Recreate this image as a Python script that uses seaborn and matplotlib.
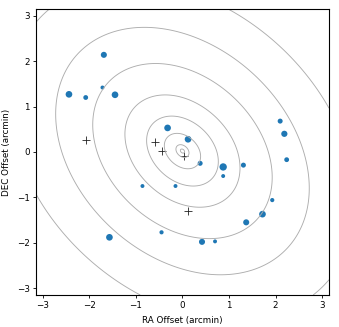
import numpy as np
import pandas as pd
import matplotlib
matplotlib.use("Agg")
import matplotlib.pyplot as plt
import seaborn as sns

# source offsets (arcmin) and relative flux
ra_off = [-1.69, -2.44, -2.08, -1.72, -1.45, -0.32, 0.12, 0.38, 0.875, 0.875,
          1.31, -0.86, -0.15, 2.10, 2.19, 2.24, 1.93, 1.72, 1.37, 0.42,
          0.70, -0.45, -1.57]
dec_off = [2.14, 1.27, 1.20, 1.42, 1.26, 0.53, 0.28, -0.25, -0.33, -0.53,
           -0.29, -0.75, -0.75, 0.68, 0.40, -0.17, -1.06, -1.37, -1.55, -1.98,
           -1.97, -1.77, -1.88]
flux = [19, 23, 12, 8, 23, 23, 23, 13, 28, 8,
        13, 8, 8, 13, 20, 12, 9, 23, 19, 19,
        8, 9, 23]

# pointing centres
pt_ra = [-2.08, -0.60, -0.43, 0.03, 0.11]
pt_dec = [0.26, 0.21, 0.02, -0.08, -1.29]

# beam contour levels (elliptical radius, arcmin)
beam_levels = [0.043, 0.134, 0.372, 0.735, 1.18, 1.84, 2.60, 3.55]
beam_tilt = 0.3
beam_center = (0.0, 0.02)

plt.rcParams['font.size'] = 6.3
fig = plt.figure(figsize=(3.39, 3.27), dpi=100)
ax = fig.add_axes([0.106, 0.098, 0.8645, 0.8745])

lim = 3.15
g = np.linspace(-lim, lim, 600)
X, Y = np.meshgrid(g, g)
dx, dy = X - beam_center[0], Y - beam_center[1]
R = np.sqrt(dx**2 + 2 * beam_tilt * dx * dy + dy**2)
ax.contour(X, Y, R, levels=beam_levels, colors='0.68', linewidths=0.65)

src = pd.DataFrame({'ra': ra_off, 'dec': dec_off, 'flux': flux})
sns.scatterplot(data=src, x='ra', y='dec', size='flux', sizes=(8, 28),
                color='#1f77b4', linewidth=0, legend=False, ax=ax)

pts = pd.DataFrame({'ra': pt_ra, 'dec': pt_dec})
sns.scatterplot(data=pts, x='ra', y='dec', marker='+', color='#222222', s=30,
                linewidth=0.6, ax=ax)

ax.set_xlim(-lim, lim)
ax.set_ylim(-lim, lim)
ax.set_xticks([-3, -2, -1, 0, 1, 2, 3])
ax.set_yticks([-3, -2, -1, 0, 1, 2, 3])
ax.set_xlabel('RA Offset (arcmin)')
ax.set_ylabel('DEC Offset (arcmin)')
ax.tick_params(length=2.5, width=0.6, pad=2)
for s in ax.spines.values():
    s.set_linewidth(0.8)

fig.savefig('out.png', dpi=100)
